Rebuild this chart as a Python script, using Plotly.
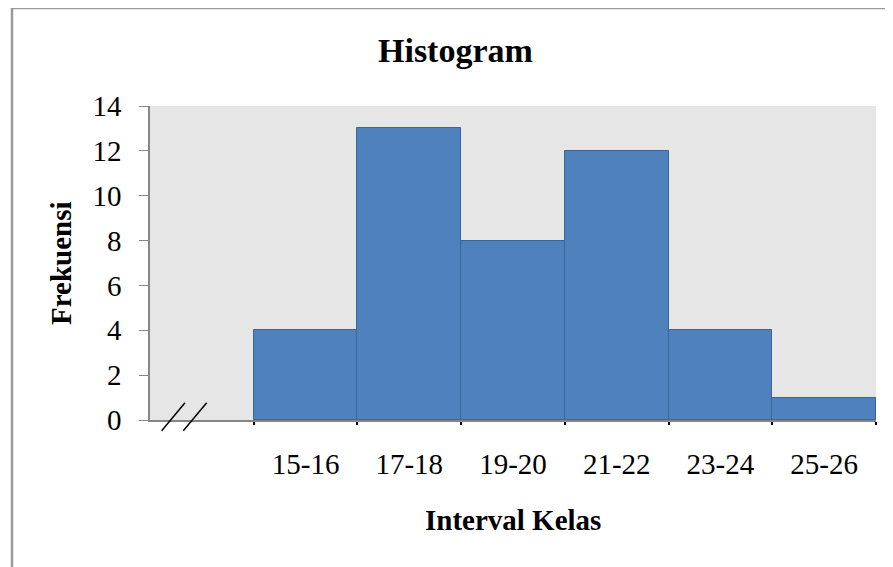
import plotly.graph_objects as go

categories = ["15-16", "17-18", "19-20", "21-22", "23-24", "25-26"]
frequencies = [4, 13, 8, 12, 4, 1]
y_ticks = [0, 2, 4, 6, 8, 10, 12, 14]

# first slot is left empty (axis break), bars occupy slots 1..6
positions = [i + 1.5 for i in range(len(categories))]
boundaries = [i + 1 for i in range(len(categories) + 1)]

OFF = 8  # default body margin of the page
W, H = 893 - OFF, 567 - OFF
L, R, T, B = 150 - OFF, 17, 106 - OFF, 147
pw, ph = W - L - R, H - T - B

def px(x):
    # page pixel x -> paper coordinate
    return (x - OFF - L) / pw

def py(y):
    # page pixel y -> paper coordinate
    return (H - B - (y - OFF)) / ph

FONT = "Liberation Serif"

fig = go.Figure()
fig.add_trace(go.Bar(
    x=positions, y=frequencies, width=1,
    marker=dict(color="#4F81BD", line=dict(color="#3A6597", width=1)),
    showlegend=False,
))

shapes = []
# outer frame (left and top borders)
shapes.append(dict(type="line", xref="paper", yref="paper",
                   x0=px(12), y0=py(8), x1=px(12), y1=py(580),
                   line=dict(color="#9A9A9A", width=2.5)))
shapes.append(dict(type="line", xref="paper", yref="paper",
                   x0=px(12), y0=py(8), x1=px(905), y1=py(8),
                   line=dict(color="#9A9A9A", width=2.5)))
# axis break marks
for (x0, y0, x1, y1) in [(161.7, 430.7, 185, 402.7), (183.3, 430.7, 206.7, 402.7)]:
    shapes.append(dict(type="line", xref="paper", yref="paper",
                       x0=px(x0), y0=py(y0), x1=px(x1), y1=py(y1),
                       line=dict(color="#000000", width=1.5)))

fig.update_layout(
    width=W, height=H,
    margin=dict(l=L, r=R, t=T, b=B),
    paper_bgcolor="white",
    plot_bgcolor="#E6E6E6",
    bargap=0,
    font=dict(family=FONT, color="#000000"),
    shapes=shapes,
    annotations=[
        dict(text="<b>Histogram</b>", xref="paper", yref="paper",
             x=px(455.5), y=py(51), xanchor="center", yanchor="middle",
             showarrow=False, font=dict(family=FONT, size=34, color="#000")),
        dict(text="<b>Frekuensi</b>", xref="paper", yref="paper",
             x=px(61), y=py(263), xanchor="center", yanchor="middle",
             textangle=-90, showarrow=False,
             font=dict(family=FONT, size=29, color="#000")),
        dict(text="<b>Interval Kelas</b>", xref="paper", yref="paper",
             x=px(513), y=py(520), xanchor="center", yanchor="middle",
             showarrow=False, font=dict(family=FONT, size=29, color="#000")),
    ],
)

fig.update_xaxes(
    range=[0, 7], tickmode="array", tickvals=positions, ticktext=categories,
    ticks="", showgrid=False, zeroline=False,
    showline=True, linecolor="#868686", linewidth=1.5,
    tickfont=dict(family=FONT, size=29, color="#000"),
    ticklabelstandoff=17,
    minor=dict(tickmode="array", tickvals=boundaries, ticks="outside",
               ticklen=3, tickwidth=2.2, tickcolor="#000", showgrid=False),
    fixedrange=True,
)
fig.update_yaxes(
    range=[0, 14], tickmode="array", tickvals=y_ticks,
    ticks="outside", ticklen=9, tickcolor="#868686", tickwidth=1.2,
    showgrid=False, zeroline=False,
    showline=True, linecolor="#868686", linewidth=1.5,
    tickfont=dict(family=FONT, size=29, color="#000"),
    ticklabelstandoff=12,
    fixedrange=True,
)

fig.write_html("out.html")
